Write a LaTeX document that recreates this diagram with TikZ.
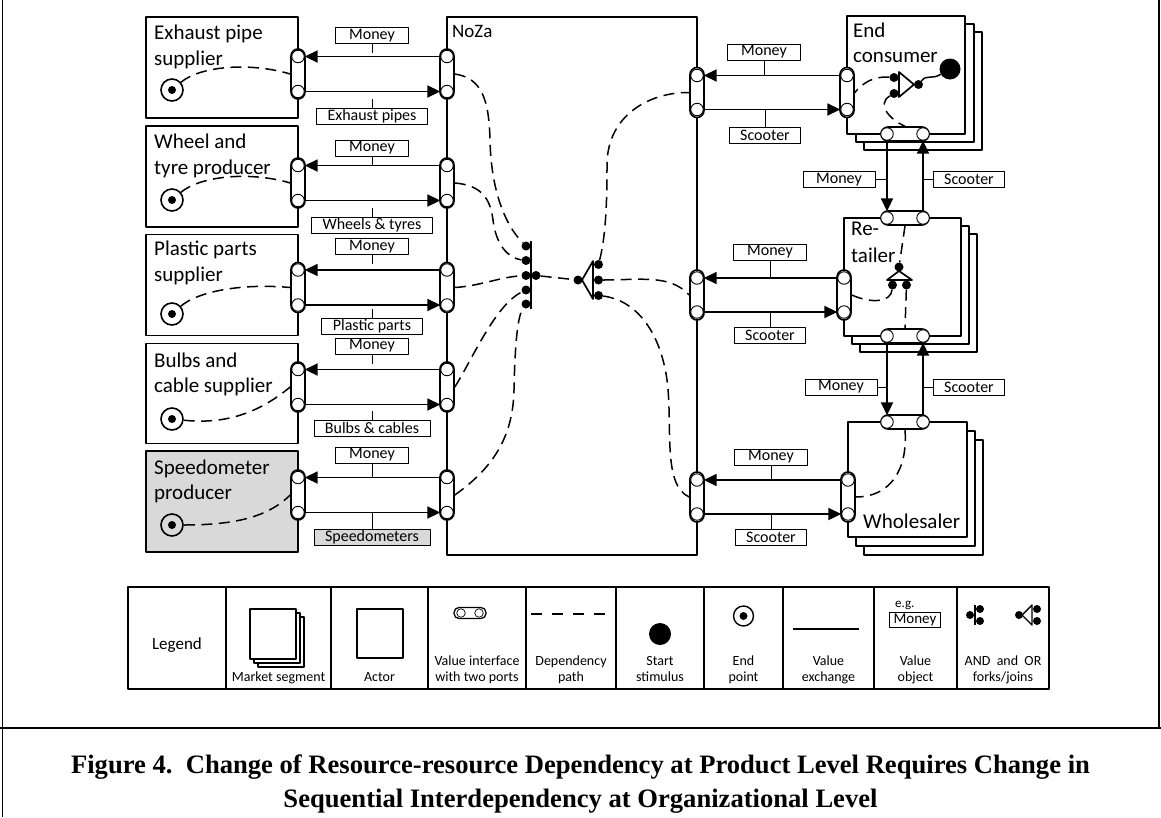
\documentclass[tikz,border=0pt]{standalone}
\usepackage{fontspec}
\setmainfont{Carlito}
\newfontfamily\capfont{Liberation Serif}
\usetikzlibrary{arrows.meta}
\definecolor{grayfill}{HTML}{D9D9D9}
% two stacked lines whose baseline is the baseline of the first line
\newcommand\twoln[2]{\vtop{\hbox{#1}\hbox{#2}}}

\begin{document}
\begin{tikzpicture}[x=1pt,y=-1pt,line join=round,
  frame/.style={line width=1.8pt},
  actor/.style={draw, line width=1.8pt, fill=white, inner sep=0pt},
  seg/.style={actor, minimum width=118pt, minimum height=118pt},
  vpill/.style={draw, line width=1.6pt, fill=white, rounded corners=7pt, minimum width=14pt, minimum height=50pt, inner sep=0pt},
  hpill/.style={vpill, minimum width=48pt, minimum height=14pt},
  port/.style={circle, draw, line width=0.9pt, fill=white, minimum size=12.5pt, inner sep=0pt,
    path picture={\fill (path picture bounding box.center) circle (4.4pt);}},
  vx/.style={line width=1.8pt, -{Triangle[length=13pt,width=12pt]}},
  dep/.style={line width=1.5pt, dash pattern=on 11pt off 6.5pt},
  vtick/.style={line width=0.8pt},
  vobj/.style={draw, line width=0.8pt, fill=white, font=\fontsize{16}{16}\selectfont, inner xsep=11pt, inner ysep=0pt, minimum height=16pt},
  money/.style={vobj, minimum width=73pt},
  jdot/.style={circle, fill, minimum size=9pt, inner sep=0pt},
  fbar/.style={line width=1.7pt},
  endpt/.style={circle, draw, line width=1.6pt, minimum size=22pt, inner sep=0pt,
    path picture={\fill (path picture bounding box.center) circle (4pt);}},
  startst/.style={circle, fill, minimum size=21pt, inner sep=0pt},
  aname/.style={font=\fontsize{21}{25.5}\selectfont, inner sep=0pt, anchor=base west},
  tbl/.style={line width=1.3pt},
  lbox/.style={draw, line width=1.5pt, fill=white, inner sep=0pt, minimum width=46pt, minimum height=50pt},
  lpill/.style={draw, line width=1.3pt, fill=white, rounded corners=5pt, minimum width=32pt, minimum height=11pt, inner sep=0pt},
  lport/.style={circle, draw, line width=0.7pt, fill=white, minimum size=8.5pt, inner sep=0pt,
    path picture={\fill (path picture bounding box.center) circle (2.8pt);}},
  llab/.style={font=\fontsize{14}{15}\selectfont, inner sep=0pt, anchor=base},
  capt/.style={font=\capfont\bfseries\fontsize{26.6}{30}\selectfont, inner sep=0pt, anchor=base}
]
\useasboundingbox (0,0) rectangle (1161,817);

% ---------- frame ----------
\draw[frame] (2.5,0) -- (2.5,817);
\draw[frame] (0,728) -- (1161,728);
\draw[frame] (1159,0) -- (1159,728);

% ---------- suppliers ----------
\node[actor, minimum width=152pt, minimum height=101pt] (sup1) at (222,67.5) {};
\node[actor, minimum width=152pt, minimum height=101pt] (sup2) at (222,176.5) {};
\node[actor, minimum width=152pt, minimum height=101pt] (sup3) at (222,285) {};
\node[actor, minimum width=152pt, minimum height=100pt] (sup4) at (222,393.5) {};
\node[actor, minimum width=152pt, minimum height=101pt, fill=grayfill] (sup5) at (222,501.5) {};

\node[aname] (tsup1) at (154,39.5) {\twoln{Exhaust pipe}{supplier}};
\node[aname] (tsup2) at (154,148.5) {\twoln{Wheel and}{tyre producer}};
\node[aname] (tsup3) at (154,255.5) {\twoln{Plastic parts}{supplier}};
\node[aname] (tsup4) at (154,367) {\twoln{Bulbs and}{cable supplier}};
\node[aname] (tsup5) at (154,474) {\twoln{Speedometer}{producer}};

% ---------- NoZa ----------
\node[actor, minimum width=250pt, minimum height=538pt] (noza) at (572,286) {};
\node[font=\fontsize{19}{22}\selectfont, inner sep=0pt, anchor=base west] (tnoza) at (452,37) {NoZa};

% ---------- market segments ----------
\node[seg] (ec3) at (923,91) {};
\node[seg] (ec2) at (915,83) {};
\node[seg] (ec1) at (906,75) {};
\node[seg, minimum width=117pt] (rt3) at (918.5,293) {};
\node[seg, minimum width=117pt] (rt2) at (910.5,285) {};
\node[seg, minimum width=117pt] (rt1) at (902.5,277) {};
\node[seg, minimum width=119pt, minimum height=115pt] (ws3) at (923.5,497.5) {};
\node[seg, minimum width=119pt, minimum height=115pt] (ws2) at (915.5,488.5) {};
\node[seg, minimum width=119pt, minimum height=115pt] (ws1) at (907.5,479.5) {};

\node[aname] (tec) at (853,37) {\twoln{End}{consumer}};
\node[aname, font=\fontsize{21}{27}\selectfont] (trt) at (851,235) {\twoln{Re-}{tailer}};
\node[aname] (tws) at (863,528) {Wholesaler};

% ---------- left exchanges ----------
\foreach \i/\y in {1/74,2/183,3/287.5,4/387,5/495}{
  \node[vpill] (sp\i) at (298,\y) {};
  \node[port] (spa\i) at (298,\y-17.5) {};
  \node[port] (spb\i) at (298,\y+17.5) {};
  \node[vpill] (nl\i) at (447,\y) {};
  \node[port] (nla\i) at (447,\y-17.5) {};
  \node[port] (nlb\i) at (447,\y+17.5) {};
  \draw[vx] (nla\i) -- (spa\i);
  \draw[vx] (spb\i) -- (nlb\i);
}
\foreach \i/\ym/\yp/\t in {1/35.5/116/Exhaust pipes,2/148/225/Wheels \& tyres,3/246.5/326.5/Plastic parts,4/346/428/Bulbs \& cables}{
  \draw[vtick] (372,\ym) -- (372,\ym+17.5);
  \draw[vtick] (372,\yp) -- (372,\yp-17.5);
  \node[money] (lm\i) at (372,\ym) {Money};
  \node[vobj] (lp\i) at (372,\yp) {\t};
}
\draw[vtick] (372,455) -- (372,477.5);
\draw[vtick] (372,537) -- (372,512.5);
\node[money] (lm5) at (372,455) {Money};
\node[vobj, fill=grayfill] (lp5) at (372,537) {Speedometers};

% ---------- right exchanges ----------
\foreach \i/\y in {1/92.5,2/295,3/497}{
  \node[vpill] (nr\i) at (697,\y) {};
  \node[port] (nra\i) at (697,\y-17) {};
  \node[port] (nrb\i) at (697,\y+17) {};
}
\node[vpill] (ecl) at (847,92.5) {};
\node[port] (ecla) at (847,75.5) {};
\node[port] (eclb) at (847,109.5) {};
\node[vpill] (rtl) at (844,295) {};
\node[port] (rtla) at (844,278) {};
\node[port] (rtlb) at (844,312) {};
\node[vpill] (wsl) at (848,497) {};
\node[port] (wsla) at (848,480) {};
\node[port] (wslb) at (848,514) {};

\node[hpill] (ecb) at (905,134) {};
\node[port] (ecb1) at (887,134) {};
\node[port] (ecb2) at (923,134) {};
\node[hpill] (rtt) at (905,218) {};
\node[port] (rtt1) at (887,218) {};
\node[port] (rtt2) at (923,218) {};
\node[hpill] (rtb) at (905,336) {};
\node[port] (rtb1) at (887,336) {};
\node[port] (rtb2) at (923,336) {};
\node[hpill] (wst) at (905,422) {};
\node[port] (wst1) at (887,422) {};
\node[port] (wst2) at (923,422) {};

\draw[vx] (ecla) -- (nra1);
\draw[vx] (nrb1) -- (eclb);
\draw[vx] (rtla) -- (nra2);
\draw[vx] (nrb2) -- (rtlb);
\draw[vx] (wsla) -- (nra3);
\draw[vx] (nrb3) -- (wslb);
\draw[vx] (ecb1) -- (rtt1);
\draw[vx] (rtt2) -- (ecb2);
\draw[vx] (rtb1) -- (wst1);
\draw[vx] (wst2) -- (rtb2);

\node[money] (rm1) at (764,52) {Money};
\node[vobj] (rs1) at (765,135) {Scooter};
\node[money] (rm2) at (770,252) {Money};
\node[vobj] (rs2) at (770,335) {Scooter};
\node[money] (rm3) at (771,457) {Money};
\node[vobj] (rs3) at (771,537.5) {Scooter};
\draw[vtick] (rm1) -- (rm1 |- nra1);
\draw[vtick] (rs1) -- (rs1 |- nrb1);
\draw[vtick] (rm2) -- (rm2 |- nra2);
\draw[vtick] (rs2) -- (rs2 |- nrb2);
\draw[vtick] (rm3) -- (rm3 |- nra3);
\draw[vtick] (rs3) -- (rs3 |- nrb3);

\node[money, minimum width=72pt] (vm1) at (839,179.5) {Money};
\node[vobj] (vs1) at (969,179.5) {Scooter};
\node[money, minimum width=72pt] (vm2) at (841,387) {Money};
\node[vobj] (vs2) at (969,387) {Scooter};
\draw[vtick] (vm1) -- (vm1 -| ecb1);
\draw[vtick] (vs1) -- (vs1 -| ecb2);
\draw[vtick] (vm2) -- (vm2 -| rtb1);
\draw[vtick] (vs2) -- (vs2 -| rtb2);

% ---------- end points in the suppliers ----------
\node[endpt] (ep1) at (172,90) {};
\node[endpt] (ep2) at (172,200) {};
\node[endpt] (ep3) at (172,314) {};
\node[endpt] (ep4) at (172,419) {};
\node[endpt] (ep5) at (172,525) {};
\draw[dep] (ep1) .. controls (200,66) and (250,62) .. (sp1.west);
\draw[dep] (ep2) .. controls (200,176) and (250,171) .. (sp2.west);
\draw[dep] (ep3) .. controls (197,292) and (240,283) .. (sp3.west);
\draw[dep] (ep4) .. controls (230,425) and (262,410) .. (sp4.west);
\draw[dep] (ep5) .. controls (240,525) and (270,515) .. (sp5.west);

% ---------- AND join and OR fork inside NoZa ----------
\draw[fbar] (531,241) -- (531,309);
\node[jdot] (a1) at (526,246) {};
\node[jdot] (a2) at (526,260.5) {};
\node[jdot] (a3) at (526,275.5) {};
\node[jdot] (a4) at (526,290) {};
\node[jdot] (a5) at (526,304) {};
\node[jdot] (a6) at (536,275.5) {};

\draw[fbar] (593,261) -- (582,280) -- (593,299) -- cycle;
\node[jdot] (or0) at (578,280) {};
\node[jdot] (or1) at (598.5,264.5) {};
\node[jdot] (or2) at (598.5,280) {};
\node[jdot] (or3) at (598.5,295.5) {};

\draw[dep] (nl1.east) .. controls (482,78) and (489,100) .. (490,140) .. controls (491,190) and (505,225) .. (a1);
\draw[dep] (nl2.east) .. controls (478,185) and (490,195) .. (493,220) .. controls (496,245) and (508,258) .. (a2);
\draw[dep] (nl3.east) .. controls (480,286) and (500,277) .. (a3);
\draw[dep] (nl4.east) .. controls (472,360) and (495,305) .. (a4);
\draw[dep] (nl5.east) .. controls (490,470) and (513,440) .. (514,390) .. controls (515,340) and (518,315) .. (a5);
\draw[dep] (a6) -- (or0);
\draw[dep] (or1) .. controls (606,235) and (607,200) .. (607,165) .. controls (607,115) and (650,92) .. (nr1.west);
\draw[dep] (or2) .. controls (640,280) and (670,274) .. (nr2.west);
\draw[dep] (or3) .. controls (635,300) and (660,330) .. (667,380) .. controls (673,425) and (662,485) .. (nr3.west);

% ---------- end consumer ----------
\node[startst] (st) at (950,69) {};
\draw[fbar] (899,72) -- (914,84.5) -- (899,97) -- cycle;
\node[jdot] (ed0) at (918.5,84.5) {};
\node[jdot] (ed1) at (894,77.5) {};
\node[jdot] (ed2) at (894,93.5) {};
\draw[line width=1.5pt] (ed0) .. controls (927,74) and (931,80) .. (st);
\draw[dep] (ed1) .. controls (872,76) and (862,84) .. (ecl.east);
\draw[dep] (ed2) .. controls (876,104) and (890,120) .. (ecb.north);

% ---------- retailer ----------
\draw[fbar] (887,280) -- (899,271) -- (912,280) -- cycle;
\node[jdot] (rd0) at (899,267) {};
\node[jdot] (rd1) at (892.5,285) {};
\node[jdot] (rd2) at (906.5,285) {};
\draw[dep] (rtt.south) -- (rd0);
\draw[dep] (rd1) .. controls (891,302) and (872,304) .. (rtl.east);
\draw[dep] (rd2) -- (rtb.north);

% ---------- wholesaler ----------
\draw[dep] (wst.south) .. controls (908,470) and (890,497) .. (wsl.east);

% ---------- legend ----------
\draw[tbl] (128,587) rectangle (1049,689);
\foreach \x in {226,331,428,526,616,704,783,874,957}
  \draw[tbl] (\x,587) -- (\x,689);
\node[font=\fontsize{17}{20}\selectfont, inner sep=0pt] (lgd) at (177,645) {Legend};

\node[lbox] (lms3) at (281,642) {};
\node[lbox] (lms2) at (277,638) {};
\node[lbox] (lms1) at (273,634) {};
\node[lbox, minimum height=49pt] (lact) at (380,633.5) {};
\node[lpill] (lvi) at (470,613) {};
\node[lport] (lvi1) at (461,613) {};
\node[lport] (lvi2) at (479,613) {};
\coordinate (ldp1) at (531,614);
\coordinate (ldp2) at (607,614);
\draw[line width=1.3pt, dash pattern=on 11pt off 10pt] (ldp1) -- (ldp2);
\node[startst, minimum size=22pt] (lst) at (660,634) {};
\node[endpt, minimum size=20pt, line width=1.4pt] (lep) at (743.5,616) {};
\coordinate (lve1) at (793,629);
\coordinate (lve2) at (859,629);
\draw[line width=1.8pt] (lve1) -- (lve2);
\node[font=\fontsize{13}{14}\selectfont, inner sep=0pt, anchor=base west] (leg) at (895,607) {e.g.};
\node[vobj, font=\fontsize{15}{15}\selectfont, inner xsep=4pt, minimum height=15pt] (lmoney) at (915,620) {Money};
% AND sample
\draw[fbar] (975,605) -- (975,625);
\node[jdot, minimum size=8pt] (land0) at (970,615) {};
\node[jdot, minimum size=8pt] (land1) at (980,609) {};
\node[jdot, minimum size=8pt] (land2) at (980,621) {};
% OR sample
\draw[fbar, line width=1.4pt] (1032,605) -- (1022,615) -- (1032,625) -- cycle;
\node[jdot, minimum size=8pt] (lor0) at (1019,615) {};
\node[jdot, minimum size=8pt] (lor1) at (1037,609) {};
\node[jdot, minimum size=8pt] (lor2) at (1037,621) {};

\node[llab] (lt1) at (278.5,681) {Market segment};
\node[llab] (lt2) at (379.5,681) {Actor};
\node[llab] (lt3a) at (477,665) {Value interface};
\node[llab] (lt3b) at (477,681) {with two ports};
\node[llab] (lt4a) at (571,665) {Dependency};
\node[llab] (lt4b) at (571,681) {path};
\node[llab] (lt5a) at (660,665) {Start};
\node[llab] (lt5b) at (660,681) {stimulus};
\node[llab] (lt6a) at (743.5,665) {End};
\node[llab] (lt6b) at (743.5,681) {point};
\node[llab] (lt7a) at (828.5,665) {Value};
\node[llab] (lt7b) at (828.5,681) {exchange};
\node[llab] (lt8a) at (915.5,665) {Value};
\node[llab] (lt8b) at (915.5,681) {object};
\node[llab] (lt9a) at (1003,665) {AND\ \ and\ \ OR};
\node[llab] (lt9b) at (1003,681) {forks/joins};

% ---------- caption ----------
\node[capt] (cap1) at (580.5,773) {Figure 4.\ \ Change of Resource-resource Dependency at Product Level Requires Change in};
\node[capt] (cap2) at (580.5,807) {Sequential Interdependency at Organizational Level};
\end{tikzpicture}
\end{document}
